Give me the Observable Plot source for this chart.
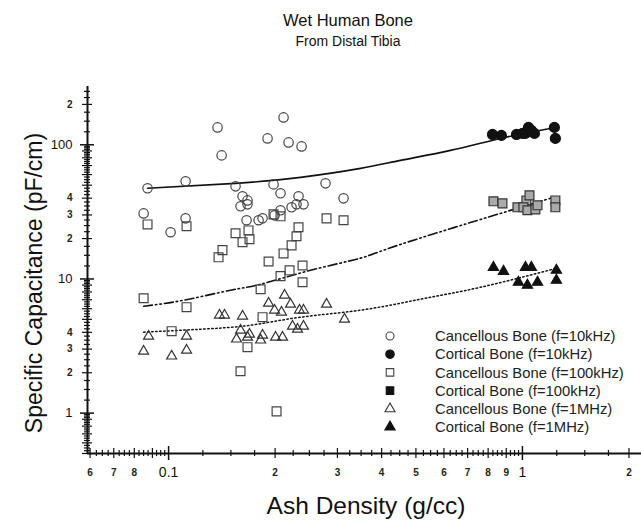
<!DOCTYPE html>
<html><head><meta charset="utf-8">
<script src="https://cdn.jsdelivr.net/npm/d3@7"></script>
<script src="https://cdn.jsdelivr.net/npm/@observablehq/plot@0.6"></script>
<style>
body{margin:0;background:#fff;font-family:"Liberation Sans",Arial,sans-serif;color:#111;}
#wrap{position:relative;width:641px;height:521px;overflow:hidden;}
.lab{position:absolute;white-space:nowrap;transform:translate(-50%,-50%);line-height:1;}
</style></head><body><div id="wrap"></div>
<script>
// ---- data (x: ash density g/cc, y: specific capacitance pF/cm) ----
const cancellous10k = [[0.085,30.8],[0.0872,47.4],[0.1013,22.3],[0.1117,53.4],[0.1117,28.3],[0.1375,134.8],[0.1412,83.4],[0.1546,49.0],[0.1618,41.3],[0.1671,38.5],[0.1597,34.8],[0.1671,36.0],[0.1661,27.4],[0.1796,27.4],[0.1843,28.3],[0.1904,111.6],[0.198,50.7],[0.2072,43.5],[0.2113,160.0],[0.2183,104.2],[0.2376,97.3],[0.2329,41.3],[0.2226,34.2],[0.2299,36.0],[0.2406,36.0],[0.2072,32.5],[0.1993,29.8],[0.2777,51.6],[0.3122,39.9]];
const cortical10k = [[0.823,119.5],[0.872,117.5],[0.962,119.5],[1.0,121.6],[1.04,134.8],[1.02,121.6],[1.06,128.0],[1.081,121.6],[1.231,134.8],[1.239,111.6]];
const cancellous100k = [[0.0872,25.5],[0.1124,24.7],[0.1546,21.9],[0.1618,18.8],[0.1682,23.0],[0.1693,19.8],[0.142,16.4],[0.1384,14.5],[0.1917,13.5],[0.198,30.3],[0.2072,29.3],[0.2329,24.3],[0.2299,20.8],[0.2226,17.8],[0.2113,15.5],[0.2391,12.6],[0.2197,11.6],[0.2795,28.3],[0.3122,27.4],[0.085,7.18],[0.1124,6.16],[0.182,8.38],[0.2072,10.5],[0.2391,9.45],[0.1843,5.19],[0.102,4.08],[0.1671,3.10],[0.1597,2.05],[0.2019,1.03]];
const cortical100k = [[0.828,37.9],[0.878,36.6],[0.968,34.2],[1.026,38.5],[1.047,42.0],[1.006,34.2],[1.033,32.5],[1.088,33.0],[1.103,35.4],[1.239,38.5],[1.239,34.2]];
const cancellous1M = [[0.085,2.89],[0.0878,3.74],[0.102,2.66],[0.1124,2.94],[0.1124,3.74],[0.1393,5.37],[0.1439,5.37],[0.1618,5.28],[0.1597,4.15],[0.1556,3.56],[0.1693,3.87],[0.1671,3.68],[0.182,3.50],[0.1843,3.81],[0.1917,6.59],[0.1993,5.85],[0.2085,5.65],[0.2127,7.56],[0.2211,6.48],[0.2344,5.85],[0.2406,5.85],[0.224,4.44],[0.2314,4.22],[0.2406,4.44],[0.2006,3.68],[0.2099,3.68],[0.2795,6.48],[0.3142,5.01]];
const cortical1M = [[0.828,12.2],[0.884,11.4],[0.974,9.45],[1.02,12.2],[1.06,12.2],[1.033,8.98],[1.103,9.45],[1.247,11.6],[1.247,9.78]];
// fitted curves
const fit10k = [[0.0872,47.4],[0.1546,51.6],[0.236,57.2],[0.3487,66.7],[0.4523,76.5],[0.6259,90.9],[0.8667,111.6],[1.239,134.8]];
const fit100k = [[0.085,6.26],[0.1102,6.94],[0.1496,8.24],[0.182,9.13],[0.2518,11.6],[0.3487,14.3],[0.4523,18.1],[0.8667,30.8],[1.223,40.6]];
const fit1M = [[0.085,4.01],[0.1231,4.22],[0.1704,4.52],[0.236,5.19],[0.3487,5.85],[0.515,7.06],[0.761,8.67],[1.247,12.0]];
// tick labels
const xTickValues = [0.06,0.07,0.08,0.1,0.2,0.3,0.4,0.5,0.6,0.7,0.8,0.9,1,2];
const xTickLabels = ["6","7","8","0.1","2","3","4","5","6","7","8","9","1","2"];
const yTickValues = [1,2,3,4,10,20,30,40,100,200];
const yTickLabels = ["1","2","3","4","10","2","3","4","100","2"];
const legendLabels = ["Cancellous Bone (f=10kHz)","Cortical Bone (f=10kHz)","Cancellous Bone (f=100kHz)","Cortical Bone (f=100kHz)","Cancellous Bone (f=1MHz)","Cortical Bone (f=1MHz)"];

const xDomain = [0.059, 2.17];
const yDomain = [0.5, 272];

const series = [
  {data: cancellous10k, symbol: "circle", r: 4.7, fill: "none", stroke: "#444"},
  {data: cortical10k, symbol: "circle", r: 5, fill: "#111", stroke: "#111"},
  {data: cancellous100k, symbol: "square", r: 5, fill: "none", stroke: "#444"},
  {data: cortical100k, symbol: "square", r: 5, fill: "#aaa", stroke: "#333"},
  {data: cancellous1M, symbol: "triangle", r: 3.7, fill: "none", stroke: "#333"},
  {data: cortical1M, symbol: "triangle", r: 3.8, fill: "#111", stroke: "#111"}
];

// axis ticks: every quarter unit within each decade
const allTicks = [];
for (const d of [0.01, 0.1, 1, 10, 100]) {
  for (let m = 1; m < 10; m += 0.25) {
    allTicks.push({v: +(d * m).toPrecision(6), kind: m === 1 ? 2 : Number.isInteger(m) ? 1 : 0});
  }
}
const inX = t => t.v >= xDomain[0] && t.v <= xDomain[1];
const inY = t => t.v >= yDomain[0] && t.v <= yDomain[1];
const pick = (f, k) => allTicks.filter(t => f(t) && t.kind === k).map(t => t.v);
const tickLen = [6, 10, 14];

const xLab = new Map(xTickValues.map((v, i) => [v, xTickLabels[i]]));
const yLab = new Map(yTickValues.map((v, i) => [v, yTickLabels[i]]));
const isBigX = v => v === 0.1 || v === 1;
const isBigY = v => v === 1 || v === 10 || v === 100;

const marks = [];
for (const k of [0, 1, 2]) {
  marks.push(Plot.axisX(pick(inX, k), {tickSize: tickLen[k], dy: -tickLen[k] / 2, fill: "none", stroke: "#111", strokeWidth: k === 2 ? 1.5 : 1.2, label: null}));
  marks.push(Plot.axisY(pick(inY, k), {tickSize: tickLen[k], dx: tickLen[k] / 2, fill: "none", stroke: "#111", strokeWidth: k === 2 ? 1.5 : 1.2, label: null}));
}
marks.push(Plot.text(xTickValues.filter(v => !isBigX(v)), {x: d => d, frameAnchor: "bottom", lineAnchor: "top", dy: 15, text: d => xLab.get(d), fontSize: 10, fontWeight: "bold", fill: "#222"}));
marks.push(Plot.text(xTickValues.filter(isBigX), {x: d => d, frameAnchor: "bottom", lineAnchor: "top", dy: 14, text: d => xLab.get(d), fontSize: 14, fill: "#111"}));
marks.push(Plot.text(yTickValues.filter(v => !isBigY(v)), {y: d => d, frameAnchor: "left", textAnchor: "end", dx: -15, text: d => yLab.get(d), fontSize: 10, fontWeight: "bold", fill: "#222"}));
marks.push(Plot.text(yTickValues.filter(isBigY), {y: d => d, frameAnchor: "left", textAnchor: "end", dx: -15, text: d => yLab.get(d), fontSize: 13, fill: "#111"}));
marks.push(Plot.ruleX([xDomain[0]], {stroke: "#111", strokeWidth: 2}));
marks.push(Plot.ruleY([yDomain[0]], {stroke: "#111", strokeWidth: 2}));

marks.push(Plot.line(fit10k, {x: d => d[0], y: d => d[1], curve: "natural", stroke: "#111", strokeWidth: 1.6}));
marks.push(Plot.line(fit100k, {x: d => d[0], y: d => d[1], curve: "natural", stroke: "#111", strokeWidth: 1.6, strokeDasharray: "9,3,1.5,3,1.5,3"}));
marks.push(Plot.line(fit1M, {x: d => d[0], y: d => d[1], curve: "natural", stroke: "#111", strokeWidth: 1.5, strokeDasharray: "1.5,2.5"}));

for (const s of series) {
  marks.push(Plot.dot(s.data, {x: d => d[0], y: d => d[1], symbol: s.symbol, r: s.r, fill: s.fill, stroke: s.stroke, strokeWidth: 1.2}));
}

const chart = Plot.plot({
  width: 641, height: 521,
  marginTop: 86, marginBottom: 68, marginLeft: 87, marginRight: 0,
  x: {type: "log", domain: xDomain, label: null},
  y: {type: "log", domain: yDomain, label: null},
  style: {fontFamily: "'Liberation Sans', Arial, sans-serif", background: "#fff", color: "#111", overflow: "visible"},
  marks
});
const wrap = document.getElementById("wrap");
wrap.appendChild(chart);

function label(text, x, y, size, extra) {
  const d = document.createElement("div");
  d.className = "lab";
  d.textContent = text;
  d.style.left = x + "px";
  d.style.top = y + "px";
  d.style.fontSize = size + "px";
  if (extra) Object.assign(d.style, extra);
  wrap.appendChild(d);
}
label("Wet Human Bone", 348, 20, 16.5);
label("From Distal Tibia", 348, 41, 14);
label("Ash Density (g/cc)", 366, 506, 24.5);
label("Specific Capacitance (pF/cm)", 34, 283, 23, {transform: "translate(-50%,-50%) rotate(-90deg)"});

// legend overlay
const leg = d3.select(wrap).append("svg")
  .attr("width", 641).attr("height", 521)
  .style("position", "absolute").style("left", 0).style("top", 0)
  .style("font-family", "'Liberation Sans', Arial, sans-serif");
const legSym = {circle: d3.symbolCircle, square: d3.symbolSquare, triangle: d3.symbolTriangle};
const legScale = [0.85, 0.85, 0.85, 0.85, 1, 1];
legendLabels.forEach((txt, i) => {
  const s = series[i];
  const y = 336 + i * 18.2;
  const r = s.r * legScale[i];
  leg.append("path")
    .attr("d", d3.symbol(legSym[s.symbol], r * r * Math.PI)())
    .attr("transform", `translate(390,${y})`)
    .attr("fill", i === 3 ? "#111" : s.fill)
    .attr("stroke", i === 3 ? "#111" : s.stroke)
    .attr("stroke-width", 1.1);
  leg.append("text").attr("x", 435).attr("y", y).attr("dy", "0.35em")
    .attr("font-size", 14.8).attr("fill", "#222").text(txt);
});
</script></body></html>
